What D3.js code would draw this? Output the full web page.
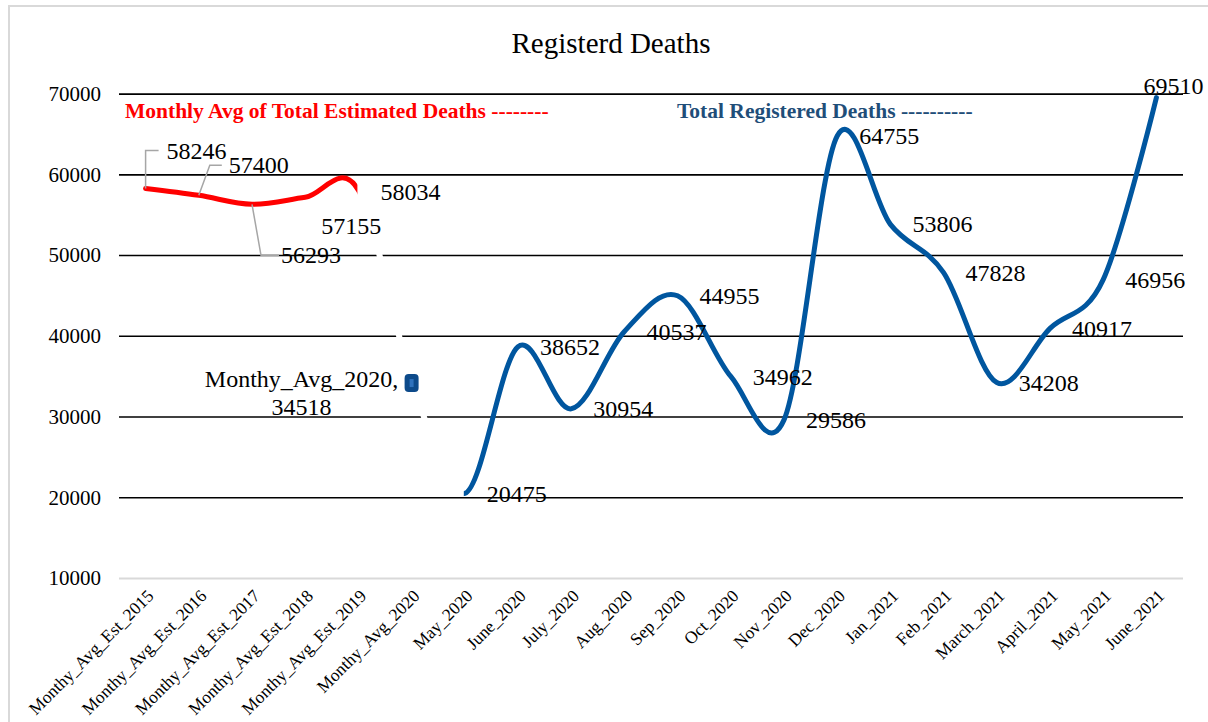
<!DOCTYPE html>
<html>
<head>
<meta charset="utf-8">
<script src="https://cdn.jsdelivr.net/npm/d3@7"></script>
<style>
  body { margin: 0; background: #fff; }
  text { font-family: "Liberation Serif", "Times New Roman", serif; fill: #000; }
</style>
</head>
<body>
<div id="chart"></div>
<script>
// Data
var estCategories = ["Monthy_Avg_Est_2015", "Monthy_Avg_Est_2016", "Monthy_Avg_Est_2017",
  "Monthy_Avg_Est_2018", "Monthy_Avg_Est_2019"];
var estDeaths = [58246, 57400, 56293, 57155, 58034];

var avgCategories = ["Monthy_Avg_2020"];
var avgDeaths = [34518];

var regCategories = ["May_2020", "June_2020", "July_2020", "Aug_2020", "Sep_2020", "Oct_2020",
  "Nov_2020", "Dec_2020", "Jan_2021", "Feb_2021", "March_2021", "April_2021", "May_2021", "June_2021"];
var regDeaths = [20475, 38652, 30954, 40537, 44955, 34962, 29586, 64755, 53806, 47828,
  34208, 40917, 46956, 69510];

var yTicks = [10000, 20000, 30000, 40000, 50000, 60000, 70000];

// Define SVG area dimensions
var svgWidth = 1208;
var svgHeight = 722;

// plot area
var plot = { left: 119, right: 1183, top: 93.6, bottom: 578 };

var categories = estCategories.concat(avgCategories, regCategories);
var values = estDeaths.concat(avgDeaths, regDeaths);
var points = categories.map((c, i) => ({ cat: c, value: values[i] }));

var svg = d3.select("#chart")
  .append("svg")
  .attr("width", svgWidth)
  .attr("height", svgHeight);

svg.append("rect")
  .attr("x", 0).attr("y", 0)
  .attr("width", svgWidth).attr("height", svgHeight)
  .attr("fill", "#fff");

// light chart frame
svg.append("rect")
  .attr("x", 9).attr("y", 6)
  .attr("width", svgWidth + 20).attr("height", svgHeight + 20)
  .attr("fill", "none")
  .attr("stroke", "#d9d9d9")
  .attr("stroke-width", 2);

// scales
var xScale = d3.scaleBand()
  .domain(categories)
  .range([plot.left, plot.right]);
var xc = d => xScale(d) + xScale.bandwidth() / 2;

var yScale = d3.scaleLinear()
  .domain([10000, 70000])
  .range([plot.bottom, plot.top]);

// gridlines + y labels
var leftAxis = d3.axisLeft(yScale)
  .tickValues(yTicks)
  .tickSize(-(plot.right - plot.left))
  .tickPadding(18)
  .tickFormat(d3.format("d"));

var yAxis = svg.append("g")
  .attr("transform", `translate(${plot.left}, 0)`)
  .call(leftAxis);
yAxis.select(".domain").remove();
yAxis.selectAll(".tick line")
  .attr("stroke", d => d === 10000 ? "#d9d9d9" : "#000")
  .attr("stroke-width", d => d === 10000 ? 2 : 1.6);
yAxis.selectAll(".tick text")
  .style("font-family", "Liberation Serif, serif")
  .style("font-size", "21px")
  .attr("fill", "#000");

// x labels, rotated
var bottomAxis = d3.axisBottom(xScale).tickSize(0).tickPadding(0);
var xAxis = svg.append("g")
  .attr("transform", `translate(0, ${plot.bottom})`)
  .call(bottomAxis);
xAxis.select(".domain").remove();
xAxis.selectAll(".tick text")
  .style("font-family", "Liberation Serif, serif")
  .style("font-size", "17.5px")
  .attr("fill", "#000")
  .attr("text-anchor", "end")
  .attr("dy", 0)
  .attr("transform", "translate(9, 19) rotate(-45)");

// one smoothed path through every point; coloured by clipping
var line = d3.line()
  .x(d => xc(d.cat))
  .y(d => yScale(d.value))
  .curve(d3.curveCardinal.tension(0));

var xEstEnd = xc(estCategories[estCategories.length - 1]);
var xRegStart = xc(regCategories[0]);

var defs = svg.append("defs");
defs.append("clipPath").attr("id", "clipEst")
  .append("rect").attr("x", 0).attr("y", 0).attr("width", xEstEnd - 1).attr("height", svgHeight);
defs.append("clipPath").attr("id", "clipGap")
  .append("rect").attr("x", xEstEnd - 1).attr("y", 0).attr("width", xRegStart - xEstEnd + 1).attr("height", svgHeight);
defs.append("clipPath").attr("id", "clipReg")
  .append("rect").attr("x", xRegStart - 1).attr("y", 0).attr("width", svgWidth).attr("height", svgHeight);

svg.append("path")
  .datum(points)
  .attr("d", line)
  .attr("clip-path", "url(#clipGap)")
  .attr("fill", "none")
  .attr("stroke", "#fff")
  .attr("stroke-width", 6);

svg.append("path")
  .datum(points)
  .attr("d", line)
  .attr("clip-path", "url(#clipEst)")
  .attr("fill", "none")
  .attr("stroke", "#ff0000")
  .attr("stroke-width", 5)
  .attr("stroke-linecap", "round");

svg.append("path")
  .datum(points)
  .attr("d", line)
  .attr("clip-path", "url(#clipReg)")
  .attr("fill", "none")
  .attr("stroke", "#00569f")
  .attr("stroke-width", 5)
  .attr("stroke-linecap", "round");

// Monthy_Avg_2020 marker
var avgGroup = svg.selectAll(".avgMarker")
  .data(avgCategories.map((c, i) => ({ cat: c, value: avgDeaths[i] })))
  .enter()
  .append("g")
  .attr("transform", d => `translate(${xc(d.cat)}, ${yScale(d.value)})`);
avgGroup.append("rect")
  .attr("x", -7).attr("y", -6).attr("width", 14).attr("height", 18)
  .attr("rx", 4)
  .attr("fill", "#0d4a8a");
avgGroup.append("rect")
  .attr("x", -2).attr("y", -1).attr("width", 4).attr("height", 8)
  .attr("fill", "#2f72bd");

// data labels; default sits to the right of the point
var labelOffsets = {
  "Monthy_Avg_Est_2015": [21, -38],
  "Monthy_Avg_Est_2016": [30, -30],
  "Monthy_Avg_Est_2017": [29, 51],
  "Monthy_Avg_Est_2018": [16, 29],
  "Monthy_Avg_Est_2019": [22, 2],
  "June_2021": [-13, -12]
};
var leaders = {
  "Monthy_Avg_Est_2015": [[0, 0], [0, -38], [13, -38]],
  "Monthy_Avg_Est_2016": [[0, 0], [11, -30], [23, -30]],
  "Monthy_Avg_Est_2017": [[0, 0], [9, 51], [27, 51]]
};

Object.keys(leaders).forEach(function(cat) {
  var i = categories.indexOf(cat);
  var px = xc(cat), py = yScale(values[i]);
  svg.append("polyline")
    .attr("points", leaders[cat].map(p => [px + p[0], py + p[1]].join(",")).join(" "))
    .attr("fill", "none")
    .attr("stroke", "#a6a6a6")
    .attr("stroke-width", 1.5);
});

svg.append("g")
  .selectAll("text")
  .data(points.filter(d => avgCategories.indexOf(d.cat) < 0))
  .enter()
  .append("text")
  .attr("x", d => xc(d.cat) + (labelOffsets[d.cat] ? labelOffsets[d.cat][0] : 22))
  .attr("y", d => yScale(d.value) + (labelOffsets[d.cat] ? labelOffsets[d.cat][1] : 0))
  .attr("dy", "0.34em")
  .style("font-size", "24px")
  .text(d => d.value);

// two-line label for the 2020 average, left of the marker
avgCategories.forEach(function(cat, i) {
  var px = xc(cat), py = yScale(avgDeaths[i]);
  var t = svg.append("text")
    .attr("text-anchor", "middle")
    .style("font-size", "24px");
  t.append("tspan").attr("x", px - 110).attr("y", py + 7).text(cat + ",");
  t.append("tspan").attr("x", px - 110).attr("y", py + 35).text(avgDeaths[i]);
});

// series captions
svg.append("text")
  .attr("x", 125).attr("y", 118)
  .style("font-size", "21.5px")
  .style("font-weight", "bold")
  .style("fill", "#ff0000")
  .text("Monthly Avg of Total Estimated Deaths --------");

svg.append("text")
  .attr("x", 677).attr("y", 118)
  .style("font-size", "21.5px")
  .style("font-weight", "bold")
  .style("fill", "#1f4e79")
  .text("Total Registered Deaths ----------");

// title
svg.append("text")
  .attr("x", 611).attr("y", 53)
  .attr("text-anchor", "middle")
  .style("font-size", "29px")
  .text("Registerd Deaths");
</script>
</body>
</html>
